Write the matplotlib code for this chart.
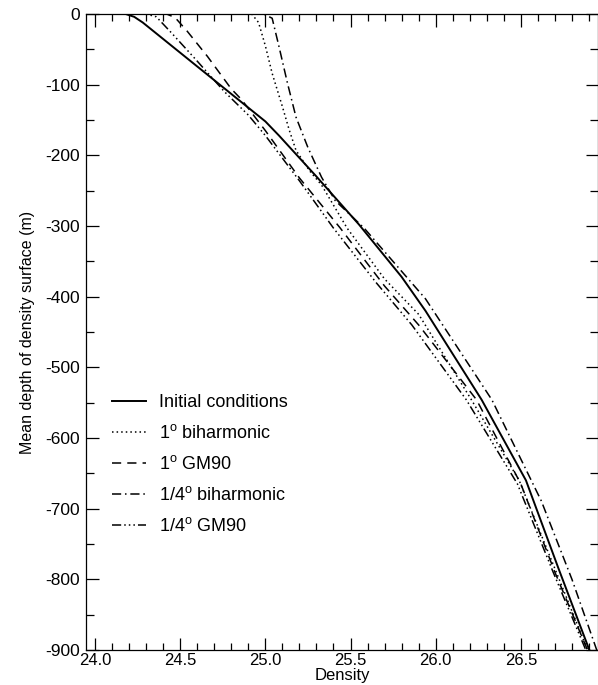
import matplotlib
matplotlib.use("Agg")
import matplotlib.pyplot as plt
from matplotlib.ticker import MultipleLocator

plt.rcParams["font.family"] = ["Liberation Sans", "DejaVu Sans"]
plt.rcParams["mathtext.fontset"] = "custom"
plt.rcParams["mathtext.rm"] = "Liberation Sans"

# Mean depth (m) of each density surface, per experiment
init_density = [23.95, 24.18, 24.23, 24.28, 25.00, 25.08, 25.30, 25.55, 25.80,
                25.94, 26.27, 26.53, 26.72, 26.91]
init_depth = [0, 0, -4, -12, -152, -172, -230, -298, -372,
              -420, -546, -660, -784, -905]

bih1_density = [23.95, 24.92, 24.96, 25.00, 25.04, 25.10, 25.14, 25.18, 25.26,
                25.33, 25.48, 25.70, 25.90, 26.21, 26.49, 26.70, 26.90]
bih1_depth = [0, 0, -12, -45, -84, -131, -164, -193, -222,
              -242, -303, -375, -425, -546, -660, -785, -905]

gm1_density = [23.95, 24.42, 24.47, 24.54, 24.66, 24.80, 24.86, 25.00, 25.20,
               25.44, 25.70, 25.90, 26.24, 26.50, 26.70, 26.90]
gm1_depth = [0, 0, -5, -24, -60, -106, -121, -165, -232,
             -303, -385, -440, -546, -665, -790, -905]

bih4_density = [23.95, 24.99, 25.04, 25.08, 25.13, 25.18, 25.25, 25.33, 25.41,
                25.58, 25.94, 26.33, 26.62, 26.80, 26.96]
bih4_depth = [0, 0, -6, -46, -98, -146, -189, -231, -264,
              -303, -403, -546, -689, -800, -910]

gm4_density = [23.95, 24.30, 24.36, 24.45, 24.59, 24.76, 24.90, 25.00, 25.20,
               25.40, 25.65, 25.86, 26.18, 26.48, 26.69, 26.89]
gm4_depth = [0, 0, -4, -27, -64, -110, -143, -172, -236,
             -303, -380, -440, -546, -665, -790, -905]

labels = ["Initial conditions", r"1$^\mathrm{o}$ biharmonic", r"1$^\mathrm{o}$ GM90",
          r"1/4$^\mathrm{o}$ biharmonic", r"1/4$^\mathrm{o}$ GM90"]

fig = plt.figure(figsize=(5.98, 6.85), dpi=100)
ax = fig.add_axes([86.5 / 598, 35 / 685, 511 / 598, 636 / 685])

lw = 1.1
ax.plot(init_density, init_depth, color="black", lw=1.4, ls="-", label=labels[0])
ax.plot(bih1_density, bih1_depth, color="black", lw=lw, ls=(0, (1, 2)), label=labels[1])
ax.plot(gm1_density, gm1_depth, color="black", lw=lw, ls=(0, (6, 4)), label=labels[2])
ax.plot(bih4_density, bih4_depth, color="black", lw=lw, ls=(0, (6, 2.5, 1, 2.5)), label=labels[3])
ax.plot(gm4_density, gm4_depth, color="black", lw=lw,
        ls=(0, (6, 2, 1, 2, 1, 2, 1, 2)), label=labels[4])

ax.set_xlim(23.95, 26.95)
ax.set_ylim(-900, 0)
ax.xaxis.set_major_locator(MultipleLocator(0.5))
ax.xaxis.set_minor_locator(MultipleLocator(0.1))
ax.yaxis.set_major_locator(MultipleLocator(100))
ax.yaxis.set_minor_locator(MultipleLocator(50))
ax.xaxis.set_major_formatter(plt.FormatStrFormatter("%.1f"))
ax.yaxis.set_major_formatter(plt.FuncFormatter(lambda v, p: f"{int(round(v))}"))

ax.tick_params(which="both", direction="in", top=True, right=True,
               width=0.9, color="black")
ax.tick_params(axis="x", which="major", length=9, pad=2, labelsize=12)
ax.tick_params(axis="x", which="minor", length=5)
ax.tick_params(axis="y", which="major", length=9, pad=5, labelsize=12.5)
ax.tick_params(axis="y", which="minor", length=6)
for s in ax.spines.values():
    s.set_linewidth(0.9)

ax.set_xlabel("Density", fontsize=12, labelpad=0)
ax.set_ylabel("Mean depth of density surface (m)", fontsize=11.5, labelpad=7)

leg = ax.legend(loc="center left", bbox_to_anchor=(0.05, 0.291), frameon=False,
                fontsize=13, handlelength=1.9, handletextpad=0.7, labelspacing=0.72,
                borderaxespad=0, borderpad=0)

fig.savefig("out.png", dpi=100)
